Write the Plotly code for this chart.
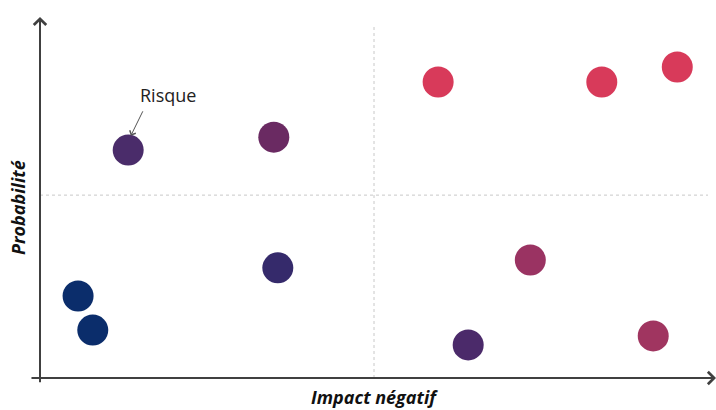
import plotly.graph_objects as go

# Data (impact, probability) in 0-100 units
impact = [13.2, 35.0, 59.6, 84.1, 95.4, 5.7, 7.9, 35.6, 73.4, 64.1, 91.8]
probabilite = [63.3, 66.9, 82.2, 82.2, 86.4, 22.8, 13.3, 30.6, 32.8, 9.2, 11.7]
couleurs = ["#4a2c6a", "#6a2a62", "#d83a5a", "#d83a5a", "#d83a5a",
            "#0b2d6b", "#0b2d6b", "#352a6b", "#9a3362", "#4b2a6a", "#a03560"]

x_mid = 50
y_mid = 50.8

fig = go.Figure()

fig.add_trace(go.Scatter(
    x=impact, y=probabilite, mode="markers",
    marker=dict(size=31, color=couleurs, line=dict(width=0)),
    hoverinfo="skip", showlegend=False,
))

shapes = [
    dict(type="line", x0=x_mid, x1=x_mid, y0=0, y1=98, xref="x", yref="y",
         line=dict(color="#c8c8c8", width=1, dash="dot")),
    dict(type="line", x0=0, x1=100, y0=y_mid, y1=y_mid, xref="x", yref="y",
         line=dict(color="#c8c8c8", width=1, dash="dot")),
]

annotations = [
    # x axis with arrow
    dict(x=101.2, y=0, ax=-1.5, ay=0, xref="x", yref="y", axref="x", ayref="y",
         showarrow=True, arrowhead=4, arrowsize=1.2, arrowwidth=2,
         arrowcolor="#404040", text=""),
    # y axis with arrow
    dict(x=0, y=100.3, ax=0, ay=-1.6, xref="x", yref="y", axref="x", ayref="y",
         showarrow=True, arrowhead=4, arrowsize=1.2, arrowwidth=2,
         arrowcolor="#404040", text=""),
    # Risque pointer
    dict(x=13.6, y=67.3, ax=15.5, ay=74.5, xref="x", yref="y", axref="x", ayref="y",
         showarrow=True, arrowhead=4, arrowsize=1.3, arrowwidth=1,
         arrowcolor="#555555", text=""),
    dict(x=19.2, y=78.6, xref="x", yref="y", text="Risque", showarrow=False,
         font=dict(family="Open Sans", size=18, color="#222222")),
    dict(x=50, y=-5.3, xref="x", yref="y", text="<b><i>Impact négatif</i></b>",
         showarrow=False, font=dict(family="Open Sans", size=18, color="#111111")),
    dict(x=-3.3, y=47.5, xref="x", yref="y", text="<b><i>Probabilité</i></b>",
         textangle=-90, showarrow=False,
         font=dict(family="Open Sans", size=18, color="#111111")),
]

fig.update_layout(
    width=716, height=410,
    margin=dict(l=0, r=0, t=0, b=0),
    paper_bgcolor="white", plot_bgcolor="white",
    xaxis=dict(range=[-5.988, 101.198], visible=False, fixedrange=True),
    yaxis=dict(range=[-8.889, 105], visible=False, fixedrange=True),
    shapes=shapes, annotations=annotations,
)

fig.write_html("out.html", config={"displayModeBar": False},
               post_script="document.body.style.margin='0';document.body.style.overflow='hidden';")
